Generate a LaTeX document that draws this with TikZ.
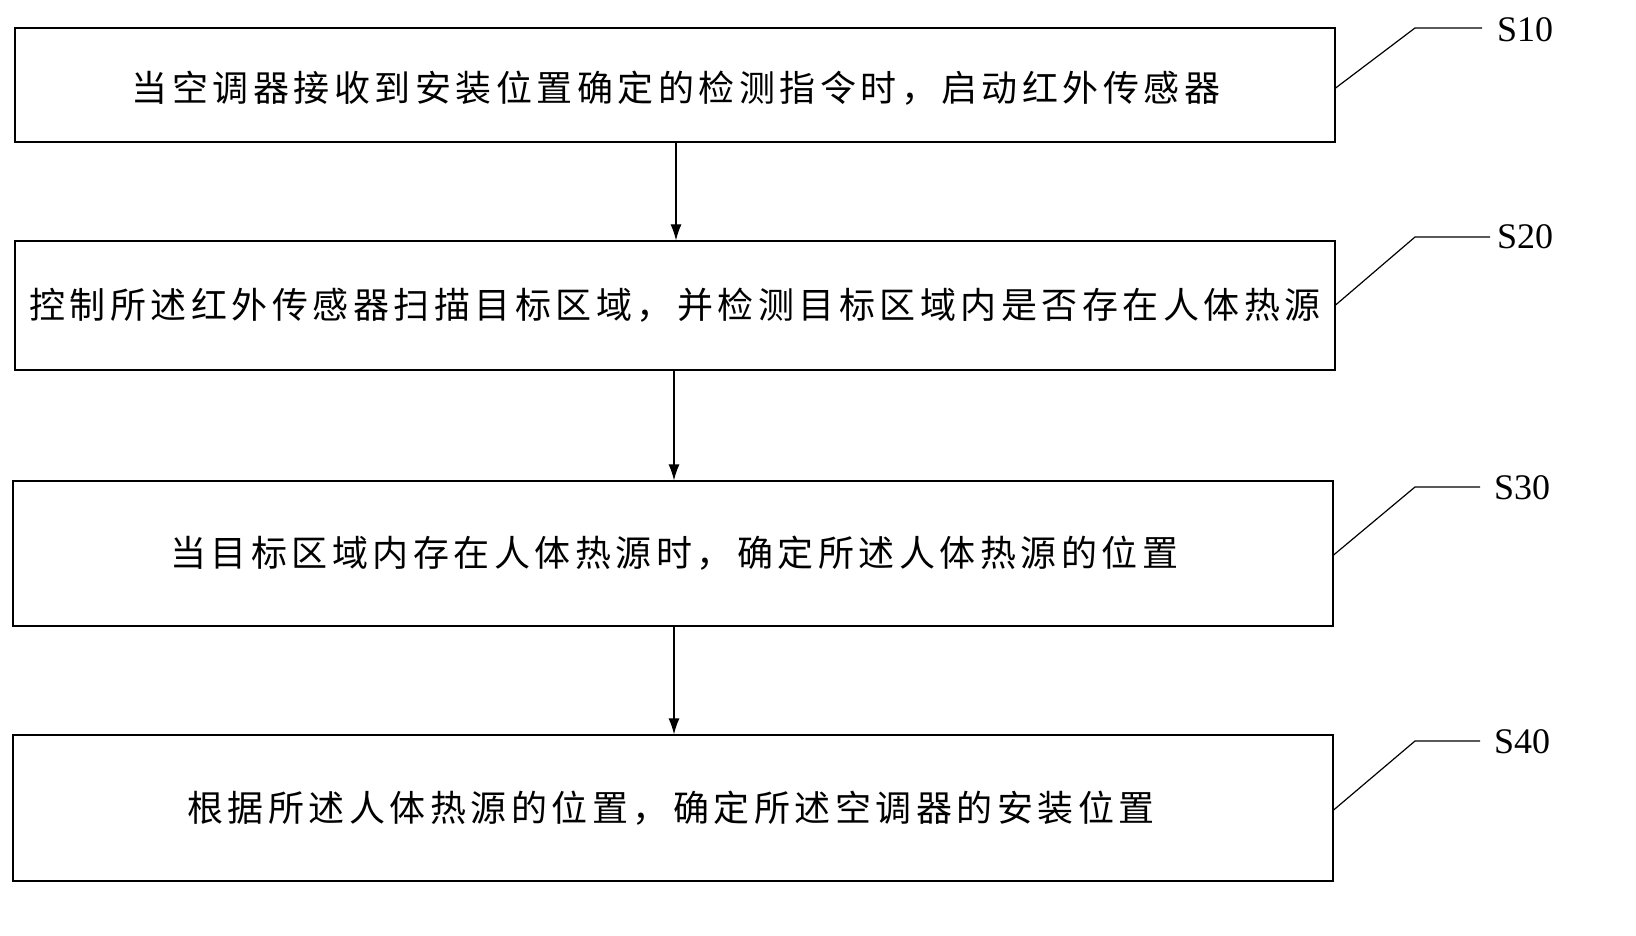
\documentclass[tikz,border=0pt]{standalone}
\usepackage{fontspec}
\setmainfont{Liberation Serif}
\newfontfamily\cjk{Noto Sans CJK SC}[LetterSpace=12.5]
\newfontfamily\cjkwide{Noto Sans CJK SC}[LetterSpace=12.5]
\usetikzlibrary{arrows.meta}
\begin{document}
\begin{tikzpicture}[x=1pt,y=-1pt,
  stepbox/.style={draw,line width=1.2pt,inner sep=0pt},
  arr/.style={-{Latex[length=16pt,width=11pt]},line width=1.2pt},
  lead/.style={line width=1.2pt},
  lbl/.style={font=\fontsize{36}{40}\selectfont,anchor=center},
  txt/.style={font=\fontsize{36}{40}\selectfont\cjk,anchor=center},
  txtw/.style={font=\fontsize{36}{40}\selectfont\cjkwide,anchor=center}]
\useasboundingbox (0,0) rectangle (1636,936);
\node[stepbox,minimum width=1320pt,minimum height=114pt] (b1) at (675,85) {};
\node[stepbox,minimum width=1320pt,minimum height=129pt] (b2) at (675,305.5) {};
\node[stepbox,minimum width=1320pt,minimum height=145pt] (b3) at (673,553.5) {};
\node[stepbox,minimum width=1320pt,minimum height=146pt] (b4) at (673,808) {};
\node[txt] (t1) at (676,88) {当空调器接收到安装位置确定的检测指令时，启动红外传感器};
\node[txtw] (t2) at (675,305) {控制所述红外传感器扫描目标区域，并检测目标区域内是否存在人体热源};
\node[txt] (t3) at (674,553) {当目标区域内存在人体热源时，确定所述人体热源的位置};
\node[txt] (t4) at (671,808) {根据所述人体热源的位置，确定所述空调器的安装位置};
\draw[arr] (b1.south -| 676,0) -- (b2.north -| 676,0);
\draw[arr] (b2.south -| 674,0) -- (b3.north -| 674,0);
\draw[arr] (b3.south -| 674,0) -- (b4.north -| 674,0);
\node[lbl] (s1) at (1525,30) {S10};
\node[lbl] (s2) at (1525,237) {S20};
\node[lbl] (s3) at (1522,488) {S30};
\node[lbl] (s4) at (1522,742) {S40};
\coordinate (c1) at (1415,28); \coordinate (e1) at (1482,28);
\coordinate (c2) at (1415,237); \coordinate (e2) at (1490,237);
\coordinate (c3) at (1415,487); \coordinate (e3) at (1480,487);
\coordinate (c4) at (1415,741); \coordinate (e4) at (1480,741);
\draw[lead] (b1.east |- 0,88) -- (c1) -- (e1);
\draw[lead] (b2.east |- 0,305) -- (c2) -- (e2);
\draw[lead] (b3.east |- 0,555) -- (c3) -- (e3);
\draw[lead] (b4.east |- 0,810) -- (c4) -- (e4);
\end{tikzpicture}
\end{document}
